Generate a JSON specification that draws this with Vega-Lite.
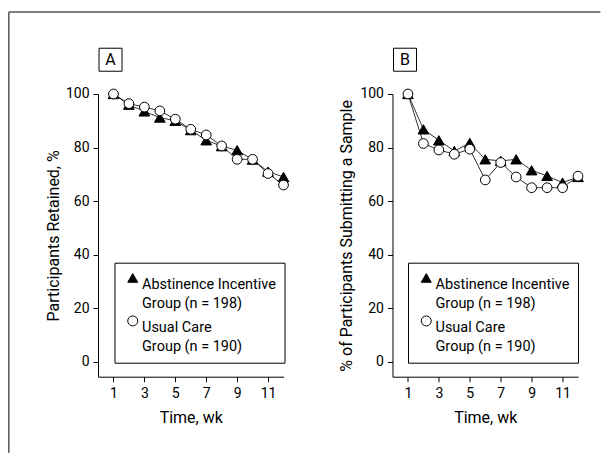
{
  "$schema": "https://vega.github.io/schema/vega-lite/v6.json",
  "padding": {"left": 8, "top": 11, "right": 0, "bottom": 0},
  "background": "white",
  "bounds": "flush",
  "spacing": 108.5,
  "config": {
    "font": "Roboto",
    "view": {"stroke": null},
    "style": {"guide-label": {"lineHeight": 19.5}},
    "axis": {
      "domainColor": "black", "tickColor": "black", "labelColor": "black", "titleColor": "black",
      "grid": false, "labelFontSize": 14, "titleFontSize": 16, "titleFontWeight": "normal",
      "tickSize": 5, "domainWidth": 1, "tickWidth": 1, "labelOverlap": false, "labelBound": false, "labelFlush": false
    },
    "legend": {
      "title": null, "orient": "none", "legendY": 168.7, "strokeColor": "black", "padding": 8,
      "labelFontSize": 14.5, "labelLimit": 0, "labelColor": "black",
      "symbolSize": 100, "symbolStrokeWidth": 1, "labelOffset": 2, "symbolOffset": 3,
      "rowPadding": 2, "labelBaseline": "top"
    }
  },
  "datasets": {
    "retained": [
      {"week": 1, "group": "Abstinence Incentive Group (n = 198)", "value": 100},
      {"week": 2, "group": "Abstinence Incentive Group (n = 198)", "value": 96},
      {"week": 3, "group": "Abstinence Incentive Group (n = 198)", "value": 93.5},
      {"week": 4, "group": "Abstinence Incentive Group (n = 198)", "value": 91.2},
      {"week": 5, "group": "Abstinence Incentive Group (n = 198)", "value": 90},
      {"week": 6, "group": "Abstinence Incentive Group (n = 198)", "value": 86.5},
      {"week": 7, "group": "Abstinence Incentive Group (n = 198)", "value": 82.7},
      {"week": 8, "group": "Abstinence Incentive Group (n = 198)", "value": 80.5},
      {"week": 9, "group": "Abstinence Incentive Group (n = 198)", "value": 79},
      {"week": 10, "group": "Abstinence Incentive Group (n = 198)", "value": 75.5},
      {"week": 11, "group": "Abstinence Incentive Group (n = 198)", "value": 71},
      {"week": 12, "group": "Abstinence Incentive Group (n = 198)", "value": 69},
      {"week": 1, "group": "Usual Care Group (n = 190)", "value": 100},
      {"week": 2, "group": "Usual Care Group (n = 190)", "value": 96.4},
      {"week": 3, "group": "Usual Care Group (n = 190)", "value": 95.1},
      {"week": 4, "group": "Usual Care Group (n = 190)", "value": 93.7},
      {"week": 5, "group": "Usual Care Group (n = 190)", "value": 90.6},
      {"week": 6, "group": "Usual Care Group (n = 190)", "value": 86.8},
      {"week": 7, "group": "Usual Care Group (n = 190)", "value": 84.7},
      {"week": 8, "group": "Usual Care Group (n = 190)", "value": 80.6},
      {"week": 9, "group": "Usual Care Group (n = 190)", "value": 75.6},
      {"week": 10, "group": "Usual Care Group (n = 190)", "value": 75.6},
      {"week": 11, "group": "Usual Care Group (n = 190)", "value": 70.3},
      {"week": 12, "group": "Usual Care Group (n = 190)", "value": 66}
    ],
    "submitted": [
      {"week": 1, "group": "Abstinence Incentive Group (n = 198)", "value": 100},
      {"week": 2, "group": "Abstinence Incentive Group (n = 198)", "value": 86.8},
      {"week": 3, "group": "Abstinence Incentive Group (n = 198)", "value": 82.7},
      {"week": 4, "group": "Abstinence Incentive Group (n = 198)", "value": 78.7},
      {"week": 5, "group": "Abstinence Incentive Group (n = 198)", "value": 81.7},
      {"week": 6, "group": "Abstinence Incentive Group (n = 198)", "value": 75.6},
      {"week": 7, "group": "Abstinence Incentive Group (n = 198)", "value": 75},
      {"week": 8, "group": "Abstinence Incentive Group (n = 198)", "value": 75.6},
      {"week": 9, "group": "Abstinence Incentive Group (n = 198)", "value": 71.5},
      {"week": 10, "group": "Abstinence Incentive Group (n = 198)", "value": 69.4},
      {"week": 11, "group": "Abstinence Incentive Group (n = 198)", "value": 66.9},
      {"week": 12, "group": "Abstinence Incentive Group (n = 198)", "value": 69},
      {"week": 1, "group": "Usual Care Group (n = 190)", "value": 100},
      {"week": 2, "group": "Usual Care Group (n = 190)", "value": 81.5},
      {"week": 3, "group": "Usual Care Group (n = 190)", "value": 79.1},
      {"week": 4, "group": "Usual Care Group (n = 190)", "value": 77.5},
      {"week": 5, "group": "Usual Care Group (n = 190)", "value": 79.4},
      {"week": 6, "group": "Usual Care Group (n = 190)", "value": 67.9},
      {"week": 7, "group": "Usual Care Group (n = 190)", "value": 74.4},
      {"week": 8, "group": "Usual Care Group (n = 190)", "value": 69},
      {"week": 9, "group": "Usual Care Group (n = 190)", "value": 65},
      {"week": 10, "group": "Usual Care Group (n = 190)", "value": 65},
      {"week": 11, "group": "Usual Care Group (n = 190)", "value": 65},
      {"week": 12, "group": "Usual Care Group (n = 190)", "value": 69.3}
    ]
  },
  "resolve": {"legend": {"shape": "independent", "fill": "independent", "stroke": "independent"}},
  "hconcat": [
    {
      "width": 185.5,
      "height": 282.7,
      "layer": [
        {
          "data": {"values": [{}]},
          "mark": {"type": "rule", "color": "#555555", "strokeWidth": 1.5, "clip": false},
          "encoding": {"x": {"datum": -5.77, "type": "quantitative"}, "y": {"datum": 130.6, "type": "quantitative"}, "y2": {"datum": -34}}
        },
        {
          "data": {"values": [{}]},
          "mark": {"type": "rule", "color": "#555555", "strokeWidth": 1.5, "clip": false},
          "encoding": {"y": {"datum": 130.6, "type": "quantitative"}, "x": {"datum": -5.77, "type": "quantitative"}, "x2": {"datum": 32.5}}
        },
        {
          "data": {"values": [{}]},
          "mark": {"type": "point", "shape": "square", "size": 529, "filled": false, "stroke": "black", "strokeWidth": 1, "opacity": 1, "clip": false},
          "encoding": {"x": {"datum": 0.81, "type": "quantitative"}, "y": {"datum": 112.8, "type": "quantitative"}}
        },
        {
          "data": {"values": [{}]},
          "mark": {"type": "text", "text": "A", "fontSize": 16, "baseline": "middle", "align": "center", "color": "black", "clip": false},
          "encoding": {"x": {"datum": 0.81, "type": "quantitative"}, "y": {"datum": 112.8, "type": "quantitative"}}
        },
        {
          "data": {"name": "retained"},
          "mark": {"type": "line", "color": "black", "strokeWidth": 0.8},
          "encoding": {
            "x": {"field": "week", "type": "quantitative"},
            "y": {"field": "value", "type": "quantitative"},
            "detail": {"field": "group", "type": "nominal"}
          }
        },
        {
          "data": {"name": "retained"},
          "mark": {"type": "point", "filled": true, "strokeWidth": 1, "opacity": 1},
          "encoding": {
            "x": {"field": "week", "type": "quantitative", "scale": {"domain": [0, 12], "nice": false, "zero": false},
                  "axis": {"values": [1, 3, 5, 7, 9, 11], "tickCount": 12, "title": "Time, wk", "labelPadding": 5, "titleY": 40.7, "titleBaseline": "middle"}},
            "y": {"field": "value", "type": "quantitative", "scale": {"domain": [-5.6, 100], "nice": false, "zero": false},
                  "axis": {"values": [0, 20, 40, 60, 80, 100], "tickCount": 12, "title": "Participants Retained, %", "labelPadding": 4, "titleX": -44.8, "titleBaseline": "middle"}},
            "size": {"field": "group", "type": "nominal", "scale": {"domain": ["Abstinence Incentive Group (n = 198)", "Usual Care Group (n = 190)"], "range": [115, 95]}, "legend": null},
            "shape": {"field": "group", "type": "nominal",
              "scale": {"domain": ["Abstinence Incentive Group (n = 198)", "Usual Care Group (n = 190)"], "range": ["triangle-up", "circle"]},
              "legend": {"legendX": 16.5, "labelExpr": "split(replace(datum.label, ' Group', '|Group'), '|')"}},
            "fill": {"field": "group", "type": "nominal",
              "scale": {"domain": ["Abstinence Incentive Group (n = 198)", "Usual Care Group (n = 190)"], "range": ["black", "white"]},
              "legend": {"legendX": 16.5, "labelExpr": "split(replace(datum.label, ' Group', '|Group'), '|')"}},
            "stroke": {"field": "group", "type": "nominal",
              "scale": {"domain": ["Abstinence Incentive Group (n = 198)", "Usual Care Group (n = 190)"], "range": ["black", "black"]},
              "legend": {"legendX": 16.5, "labelExpr": "split(replace(datum.label, ' Group', '|Group'), '|')"}}
          }
        }
      ]
    },
    {
      "width": 185.5,
      "height": 282.7,
      "layer": [
        {
          "data": {"values": [{}]},
          "mark": {"type": "point", "shape": "square", "size": 529, "filled": false, "stroke": "black", "strokeWidth": 1, "opacity": 1, "clip": false},
          "encoding": {"x": {"datum": 0.81, "type": "quantitative"}, "y": {"datum": 112.8, "type": "quantitative"}}
        },
        {
          "data": {"values": [{}]},
          "mark": {"type": "text", "text": "B", "fontSize": 16, "baseline": "middle", "align": "center", "color": "black", "clip": false},
          "encoding": {"x": {"datum": 0.81, "type": "quantitative"}, "y": {"datum": 112.8, "type": "quantitative"}}
        },
        {
          "data": {"name": "submitted"},
          "mark": {"type": "line", "color": "black", "strokeWidth": 0.8},
          "encoding": {
            "x": {"field": "week", "type": "quantitative"},
            "y": {"field": "value", "type": "quantitative"},
            "detail": {"field": "group", "type": "nominal"}
          }
        },
        {
          "data": {"name": "submitted"},
          "mark": {"type": "point", "filled": true, "strokeWidth": 1, "opacity": 1},
          "encoding": {
            "x": {"field": "week", "type": "quantitative", "scale": {"domain": [0, 12], "nice": false, "zero": false},
                  "axis": {"values": [1, 3, 5, 7, 9, 11], "tickCount": 12, "title": "Time, wk", "labelPadding": 5, "titleY": 40.7, "titleBaseline": "middle"}},
            "y": {"field": "value", "type": "quantitative", "scale": {"domain": [-5.6, 100], "nice": false, "zero": false},
                  "axis": {"values": [0, 20, 40, 60, 80, 100], "tickCount": 12, "title": "% of Participants Submitting a Sample", "labelPadding": 4, "titleX": -46, "titleBaseline": "middle"}},
            "size": {"field": "group", "type": "nominal", "scale": {"domain": ["Abstinence Incentive Group (n = 198)", "Usual Care Group (n = 190)"], "range": [115, 95]}, "legend": null},
            "shape": {"field": "group", "type": "nominal",
              "scale": {"domain": ["Abstinence Incentive Group (n = 198)", "Usual Care Group (n = 190)"], "range": ["triangle-up", "circle"]},
              "legend": {"legendX": 15.5, "labelExpr": "split(replace(datum.label, ' Group', '|Group'), '|')"}},
            "fill": {"field": "group", "type": "nominal",
              "scale": {"domain": ["Abstinence Incentive Group (n = 198)", "Usual Care Group (n = 190)"], "range": ["black", "white"]},
              "legend": {"legendX": 15.5, "labelExpr": "split(replace(datum.label, ' Group', '|Group'), '|')"}},
            "stroke": {"field": "group", "type": "nominal",
              "scale": {"domain": ["Abstinence Incentive Group (n = 198)", "Usual Care Group (n = 190)"], "range": ["black", "black"]},
              "legend": {"legendX": 15.5, "labelExpr": "split(replace(datum.label, ' Group', '|Group'), '|')"}}
          }
        }
      ]
    }
  ]
}
